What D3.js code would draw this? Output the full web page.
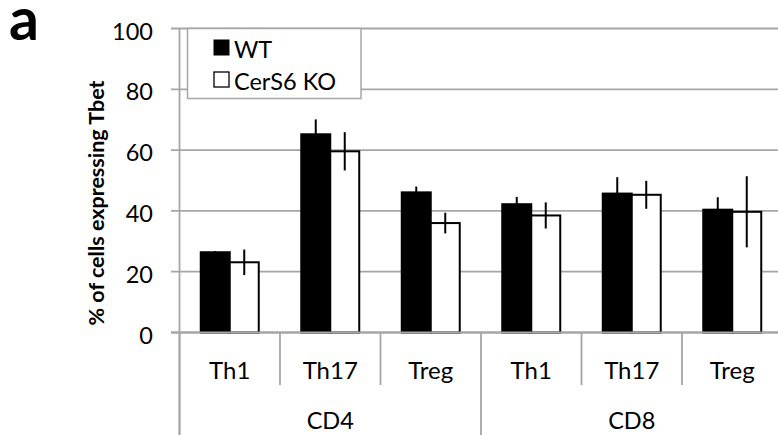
<!DOCTYPE html>
<html>
<head>
<meta charset="utf-8">
<script src="https://cdn.jsdelivr.net/npm/d3@7"></script>
<style>
  html, body { margin: 0; padding: 0; background: #fff; }
  svg { display: block; font-family: Lato, "Open Sans", sans-serif; }
</style>
</head>
<body>
<svg id="chart" width="778" height="435"></svg>
<script>
// T-cell subsets (inner axis level) and their parent populations (outer level)
const subsets = ["Th1", "Th17", "Treg", "Th1", "Th17", "Treg"];
const groups = ["CD4", "CD8"];
const seriesNames = ["WT", "CerS6 KO"];

// % of cells expressing Tbet, mean and error
const wtValues = [26.4, 65.2, 46.1, 42.2, 45.7, 40.4];
const wtErrors = [0.4, 4.9, 1.9, 2.4, 5.4, 4.1];
const koValues = [23.1, 59.6, 36.0, 38.5, 45.3, 39.7];
const koErrors = [4.2, 6.3, 3.4, 4.3, 4.6, 11.7];

const yTicks = [0, 20, 40, 60, 80, 100];

const svg = d3.select("#chart");
const W = 778, H = 435;
const gridColor = "#a6a6a6";
const fontSize = 23.5;

const keys = subsets.map((s, i) => i);
const x0 = d3.scaleBand().domain(keys).range([179.5, 782.5]).padding(0);
const x1 = d3.scaleBand().domain(seriesNames).range([0, x0.bandwidth()])
  .paddingInner(0).paddingOuter(0.733);
const y = d3.scaleLinear().domain([0, 100]).range([332.5, 28.5]);

// panel letter
svg.append("text").attr("x", 9).attr("y", 40)
  .attr("font-size", 59).attr("font-weight", 700).text("a");

// horizontal gridlines with outward ticks
svg.append("g").selectAll("line").data(yTicks).join("line")
  .attr("x1", 171).attr("x2", W)
  .attr("y1", d => y(d)).attr("y2", d => y(d))
  .attr("stroke", gridColor).attr("stroke-width", 1.8);

// value axis line (runs down through the category label area)
svg.append("line").attr("x1", x0.range()[0]).attr("x2", x0.range()[0])
  .attr("y1", y(100)).attr("y2", H)
  .attr("stroke", gridColor).attr("stroke-width", 1.8);

// y tick labels
svg.append("g").selectAll("text").data(yTicks).join("text")
  .attr("x", 153).attr("y", d => y(d) + 2)
  .attr("text-anchor", "end").attr("dominant-baseline", "central")
  .attr("font-size", fontSize).attr("fill", "#000").text(d => d);

// y axis title
svg.append("text")
  .attr("transform", "translate(104,203) rotate(-90)")
  .attr("text-anchor", "middle")
  .attr("font-size", 21.5).attr("font-weight", 700)
  .text("% of cells expressing Tbet");

// legend
const lg = svg.append("g");
lg.append("rect").attr("x", 187.5).attr("y", 28.5).attr("width", 173.5).attr("height", 70)
  .attr("fill", "#fff").attr("stroke", gridColor).attr("stroke-width", 1.5);
const legendRows = lg.selectAll("g.row").data(seriesNames).join("g")
  .attr("class", "row")
  .attr("transform", (d, i) => `translate(0,${i === 0 ? 47.5 : 79.5})`);
legendRows.append("rect")
  .attr("x", d => d === "WT" ? 213.5 : 214)
  .attr("y", d => d === "WT" ? -8 : -7.5)
  .attr("width", d => d === "WT" ? 16 : 15)
  .attr("height", d => d === "WT" ? 16 : 15)
  .attr("fill", d => d === "WT" ? "#000" : "#fff")
  .attr("stroke", "#000").attr("stroke-width", d => d === "WT" ? 0 : 1.3);
legendRows.append("text").attr("x", 234).attr("y", 1)
  .attr("dominant-baseline", "central")
  .attr("font-size", fontSize).text(d => d);

// bars
const rows = keys.map(i => ({
  i,
  vals: [
    { name: "WT", v: wtValues[i], e: wtErrors[i] },
    { name: "CerS6 KO", v: koValues[i], e: koErrors[i] }
  ]
}));
const gBars = svg.append("g").selectAll("g").data(rows).join("g")
  .attr("transform", d => `translate(${x0(d.i)},0)`);
gBars.selectAll("rect").data(d => d.vals).join("rect")
  .attr("x", d => x1(d.name))
  .attr("y", d => y(d.v))
  .attr("width", x1.bandwidth())
  .attr("height", d => y(0) - y(d.v))
  .attr("fill", d => d.name === "WT" ? "#000" : "#fff")
  .attr("stroke", "#000").attr("stroke-width", 2);
gBars.selectAll("line.err").data(d => d.vals).join("line")
  .attr("class", "err")
  .attr("x1", d => x1(d.name) + x1.bandwidth() / 2)
  .attr("x2", d => x1(d.name) + x1.bandwidth() / 2)
  .attr("y1", d => y(d.v - d.e)).attr("y2", d => y(d.v + d.e))
  .attr("stroke", "#000").attr("stroke-width", 2);

// baseline redrawn over bar bottoms
svg.append("line").attr("x1", 171).attr("x2", W)
  .attr("y1", y(0)).attr("y2", y(0))
  .attr("stroke", gridColor).attr("stroke-width", 1.8);

// category dividers: short for subsets, long at group boundaries
const bounds = d3.range(0, subsets.length + 1);
svg.append("g").selectAll("line").data(bounds).join("line")
  .attr("x1", d => x0.range()[0] + d * x0.bandwidth())
  .attr("x2", d => x0.range()[0] + d * x0.bandwidth())
  .attr("y1", y(0))
  .attr("y2", d => d % 3 === 0 ? H : 385)
  .attr("stroke", gridColor).attr("stroke-width", 1.8);

// subset labels
svg.append("g").selectAll("text").data(keys).join("text")
  .attr("x", d => x0(d) + x0.bandwidth() / 2).attr("y", 369)
  .attr("text-anchor", "middle").attr("dominant-baseline", "central")
  .attr("font-size", 24).text(d => subsets[d]);

// group labels
svg.append("g").selectAll("text").data(groups).join("text")
  .attr("x", (d, gi) => x0(gi * 3) + 1.5 * x0.bandwidth())
  .attr("y", 429)
  .attr("text-anchor", "middle")
  .attr("font-size", 23.5).text(d => d);
</script>
</body>
</html>
